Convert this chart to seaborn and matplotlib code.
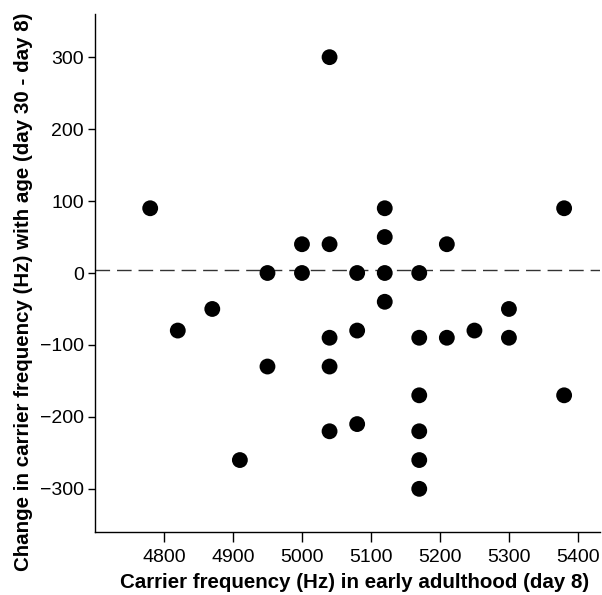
import pandas as pd
import seaborn as sns
import matplotlib.pyplot as plt

# carrier frequency on day 8 and the change by day 30
freq_day8 = [4780, 4820, 4870, 4910, 4950, 4950, 5000, 5000,
             5040, 5040, 5040, 5040, 5040, 5080, 5080, 5080,
             5120, 5120, 5120, 5120, 5170, 5170, 5170, 5170, 5170, 5170,
             5210, 5210, 5250, 5300, 5300, 5380, 5380]
change = [90, -80, -50, -260, 0, -130, 40, 0,
          300, 40, -90, -130, -220, 0, -80, -210,
          90, 50, 0, -40, 0, -90, -170, -220, -260, -300,
          40, -90, -80, -50, -90, 90, -170]
ref_line = 4

df = pd.DataFrame({"freq": freq_day8, "change": change})

sns.set_style("ticks")
plt.rcParams["font.family"] = ["Liberation Sans", "DejaVu Sans"]
plt.rcParams["text.color"] = "black"
plt.rcParams["axes.labelcolor"] = "black"
plt.rcParams["xtick.color"] = "black"
plt.rcParams["ytick.color"] = "black"

fig = plt.figure(figsize=(6.02, 5.95), dpi=100)
ax = fig.add_axes([95 / 602, 1 - 532 / 595, 505 / 602, 518 / 595])

ax.axhline(ref_line, color="#333333", lw=1.0, dashes=(10.5, 5), zorder=1)
sns.scatterplot(data=df, x="freq", y="change", color="black", s=130,
                edgecolor="none", ax=ax, zorder=2)

ax.set_xlim(4700, 5432)
ax.set_ylim(-360, 360)
ax.set_xticks(range(4800, 5401, 100))
ax.set_yticks(range(-300, 301, 100))
ax.tick_params(axis="x", length=7, width=1, labelsize=14, pad=5)
ax.tick_params(axis="y", length=5, width=1, labelsize=14, pad=3)

ax.set_xlabel("Carrier frequency (Hz) in early adulthood (day 8)",
              fontsize=14.8, fontweight="bold")
ax.set_ylabel("Change in carrier frequency (Hz) with age (day 30 - day 8)",
              fontsize=14.8, fontweight="bold")
ax.xaxis.set_label_coords((355 - 95) / 505, -(583 - 532) / 518,
                          transform=ax.transAxes)
ax.xaxis.label.set_va("center")
ax.yaxis.set_label_coords(-(95 - 24) / 505, (532 - 292) / 518,
                          transform=ax.transAxes)
ax.yaxis.label.set_va("center")

sns.despine(ax=ax)
for s in ["left", "bottom"]:
    ax.spines[s].set_linewidth(1.0)
    ax.spines[s].set_color("black")

fig.savefig("out.png", dpi=100)
